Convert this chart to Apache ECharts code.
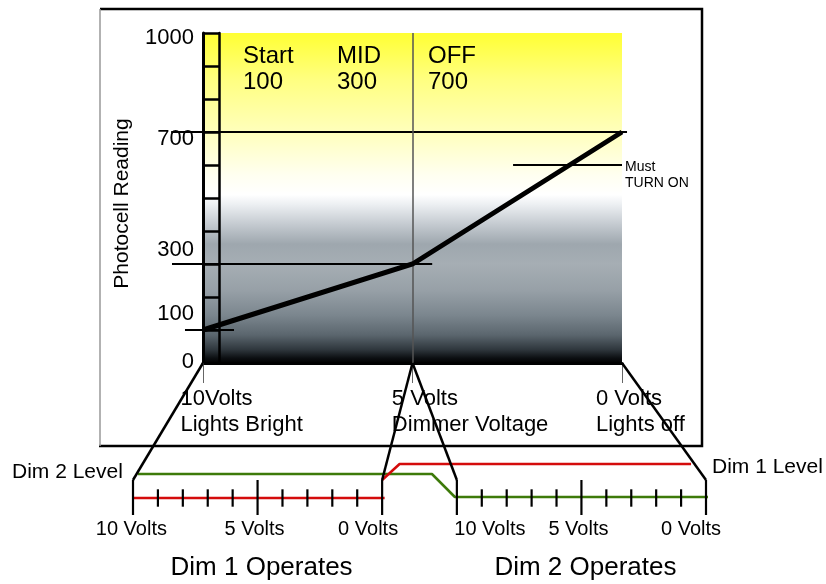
<!DOCTYPE html>
<html>
<head>
<meta charset="utf-8">
<script src="https://cdn.jsdelivr.net/npm/echarts@6/dist/echarts.min.js"></script>
<style>
  html, body { margin: 0; padding: 0; background: #fff; }
  #chart { width: 826px; height: 584px; }
</style>
</head>
<body>
<div id="chart"></div>
<script>
const FONT = '"Liberation Sans", Arial, Helvetica, sans-serif';
const INK = '#000';

// Photocell reading against dimmer control voltage
const dimmerVolts = [10, 5, 0];
const photocellReading = [100, 300, 700];
const readingLabelValues = [0, 100, 300, 700, 1000];
const voltLabels = ['10Volts\nLights Bright', '5 Volts\nDimmer Voltage', '0 Volts\nLights off'];

// Threshold notes printed in the plot
const stageNames = ['Start', 'MID', 'OFF'];
const stageReadings = [100, 300, 700];

// Horizontal reference marks: reading level and the voltage span each covers
const refReadings = [700, 300, 100, 600];
const refFromVolts = [10.76, 10.74, 10.43, 2.6];
const refToVolts = [-0.12, 4.53, 9.26, 0];

// Lower strip: two dimmer scales laid on one sweep axis (position of each 10 V end)
const dimScaleStart = [0, 13];
const dimScaleVolts = [10, 9, 8, 7, 6, 5, 4, 3, 2, 1, 0];
const dimScaleNames = ['Dim 1 Operates', 'Dim 2 Operates'];

// Level traces on the sweep axis: [sweep position, level]
const dim1LevelLow = [[0, 0], [10.1, 0]];
const dim1LevelHigh = [[10, 1.8], [10.7, 3.4], [22.4, 3.4]];
const dim2Level = [[0.2, 2.4], [12.0, 2.4], [12.92, 0.1], [23.1, 0.1]];

// ---- derived structures -------------------------------------------------
const SPAN = 10;
const dimTicks = [];
dimScaleStart.forEach(start => {
  dimScaleVolts.forEach(v => {
    const major = v % 5 === 0;
    dimTicks.push([start + (SPAN - v), major ? -1.7 : -0.87, major ? 1.8 : 0.87]);
  });
});
const dimLabelPos = [];
const dimLabelText = [];
dimScaleStart.forEach(start => {
  dimScaleVolts.filter(v => v % 5 === 0).forEach(v => {
    dimLabelPos.push(start + (SPAN - v));
    dimLabelText.push(v + ' Volts');
  });
});
const refRows = refReadings.map((lvl, i) => [refFromVolts[i], refToVolts[i], lvl]);

// small nudges of label text (pixels)
const yLabelShift = { 0: -1.5, 100: -16.5, 300: -14.5, 700: 7, 1000: 5 };
const dimLabelShift = [-1.6, -3, -14, 33, -3, -15];
const voltLabelDx = [-22.5, -20.6, -26];

function vShiftPad(d) { return d >= 0 ? [2 * d, 0, 0, 0] : [0, 0, -2 * d, 0]; }
function hShiftPad(d) { return d >= 0 ? [0, 0, 0, 2 * d] : [0, -2 * d, 0, 0]; }

const yRich = {};
readingLabelValues.forEach(v => {
  yRich['r' + v] = { fontSize: 22, fontFamily: FONT, color: INK, padding: vShiftPad(yLabelShift[v] || 0) };
});
const dimRich = {};
dimLabelPos.forEach((u, i) => {
  dimRich['d' + i] = { fontSize: 20, fontFamily: FONT, color: INK, padding: hShiftPad(dimLabelShift[i]) };
});

const plotFill = new echarts.graphic.LinearGradient(0, 0, 0, 1, [
  { offset: 0.00, color: '#ffff33' },
  { offset: 0.14, color: '#ffff80' },
  { offset: 0.29, color: '#ffffb8' },
  { offset: 0.43, color: '#fffff0' },
  { offset: 0.49, color: '#ffffff' },
  { offset: 0.52, color: '#eceff2' },
  { offset: 0.58, color: '#c4cad0' },
  { offset: 0.64, color: '#9ea7ae' },
  { offset: 0.70, color: '#a6aeb4' },
  { offset: 0.78, color: '#97a0a7' },
  { offset: 0.855, color: '#7b868e' },
  { offset: 0.915, color: '#5b666e' },
  { offset: 0.96, color: '#2e363c' },
  { offset: 0.985, color: '#0c0f12' },
  { offset: 1.00, color: '#000000' }
]);

const option = {
  animation: false,
  backgroundColor: '#fff',
  textStyle: { fontFamily: FONT, color: INK },
  grid: [
    { left: 203, right: 204, top: 33, bottom: 221, show: true, backgroundColor: plotFill, borderWidth: 0 },
    { left: 133, right: 120, top: 458, bottom: 66 }
  ],
  xAxis: [
    {
      gridIndex: 0, type: 'value', min: 0, max: 10, interval: 5, inverse: true,
      axisLine: { onZero: false, lineStyle: { color: '#000', width: 3 } },
      axisTick: { show: true, length: 20, lineStyle: { color: '#666', width: 1 } },
      axisLabel: { show: false },
      splitLine: { show: false }
    },
    {
      gridIndex: 1, type: 'value', min: 0, max: 23,
      axisLine: { show: false, onZero: false },
      axisTick: { show: false },
      splitLine: { show: false },
      axisLabel: {
        customValues: dimLabelPos,
        margin: 1,
        color: INK,
        formatter: val => {
          const i = dimLabelPos.findIndex(u => Math.abs(u - val) < 1e-6);
          return i < 0 ? '' : '{d' + i + '|' + dimLabelText[i] + '}';
        },
        rich: dimRich
      }
    }
  ],
  yAxis: [
    {
      gridIndex: 0, type: 'value', min: 0, max: 1000, interval: 100, position: 'left',
      name: 'Photocell Reading', nameLocation: 'middle', nameGap: 70, nameRotate: 90,
      nameTextStyle: { fontSize: 21, fontFamily: FONT, color: INK, padding: [0, 11, 0, 0] },
      axisLine: { show: true, onZero: false, lineStyle: { color: '#000', width: 3 } },
      axisTick: { show: true, inside: true, length: 17, lineStyle: { color: '#000', width: 2.5 } },
      axisLabel: {
        customValues: readingLabelValues,
        margin: 9,
        color: INK,
        formatter: v => '{r' + v + '|' + v + '}',
        rich: yRich
      },
      splitLine: { show: false }
    },
    {
      // right edge of the scale ruler
      gridIndex: 0, type: 'value', min: 0, max: 1000, position: 'left', offset: -16.5,
      axisLine: { show: true, onZero: false, lineStyle: { color: '#000', width: 2.5 } },
      axisTick: { show: false }, axisLabel: { show: false }, splitLine: { show: false }
    },
    {
      gridIndex: 1, type: 'value', min: -2, max: 4, show: false,
      axisLine: { onZero: false }, splitLine: { show: false }
    }
  ],
  series: [
    {
      name: 'Photocell Reading',
      type: 'line', xAxisIndex: 0, yAxisIndex: 0,
      data: dimmerVolts.map((v, i) => [v, photocellReading[i]]),
      symbol: 'none', z: 5, silent: true,
      lineStyle: { color: '#000', width: 5, join: 'miter' },
      markLine: {
        silent: true, symbol: 'none', label: { show: false },
        lineStyle: { color: '#555', width: 1.5, type: 'solid' },
        data: [{ xAxis: 5 }]
      }
    },
    {
      // horizontal reference marks, allowed to run past the plot edges
      type: 'custom', xAxisIndex: 0, yAxisIndex: 0, clip: false, silent: true, z: 3,
      data: refRows,
      encode: { x: [0, 1], y: 2 },
      renderItem: (params, api) => {
        const a = api.coord([api.value(0), api.value(2)]);
        const b = api.coord([api.value(1), api.value(2)]);
        return {
          type: 'line',
          shape: { x1: a[0], y1: a[1], x2: b[0], y2: b[1] },
          style: { stroke: '#000', lineWidth: 2 }
        };
      }
    },
    {
      // voltage captions under the main axis
      type: 'scatter', xAxisIndex: 0, yAxisIndex: 0, symbolSize: 0.1, clip: false, silent: true,
      itemStyle: { color: '#000', opacity: 1 },
      label: { show: true, color: '#000', fontSize: 22, lineHeight: 26, fontFamily: FONT },
      data: dimmerVolts.map((v, i) => ({
        value: [v, 0],
        label: {
          show: true, position: [voltLabelDx[i], 23], formatter: voltLabels[i],
          fontSize: 22, lineHeight: 26, fontFamily: FONT, color: '#000', align: 'left'
        }
      }))
    },
    {
      name: 'Dim 2 Level', type: 'line', xAxisIndex: 1, yAxisIndex: 2,
      data: dim2Level, symbol: 'none', clip: false, silent: true, z: 3,
      lineStyle: { color: '#3d7a0a', width: 2.5 }
    },
    {
      name: 'Dim 1 Level', type: 'line', xAxisIndex: 1, yAxisIndex: 2,
      data: dim1LevelLow, symbol: 'none', clip: false, silent: true, z: 3,
      lineStyle: { color: '#d40b0b', width: 2.5 }
    },
    {
      name: 'Dim 1 Level', type: 'line', xAxisIndex: 1, yAxisIndex: 2,
      data: dim1LevelHigh, symbol: 'none', clip: false, silent: true, z: 3,
      lineStyle: { color: '#d40b0b', width: 2.5 }
    },
    {
      type: 'custom', xAxisIndex: 1, yAxisIndex: 2, clip: false, silent: true, z: 4,
      data: dimTicks,
      encode: { x: 0, y: [1, 2] },
      renderItem: (params, api) => {
        const a = api.coord([api.value(0), api.value(1)]);
        const b = api.coord([api.value(0), api.value(2)]);
        return {
          type: 'line',
          shape: { x1: a[0], y1: a[1], x2: b[0], y2: b[1] },
          style: { stroke: '#000', lineWidth: 2.2 }
        };
      }
    }
  ]
};

const chart = echarts.init(document.getElementById('chart'));
chart.setOption(option);

// connector lines from the main voltage axis down to the two dimmer scales
const px = (gi, pt) => chart.convertToPixel({ gridIndex: gi }, pt);
const links = [
  [[10, 0], [dimScaleStart[0], 1.8]],
  [[5, 0], [dimScaleStart[0] + SPAN, 1.8]],
  [[5, 0], [dimScaleStart[1], 1.8]],
  [[0, 0], [dimScaleStart[1] + SPAN, 1.8]]
];
const graphics = [];
links.forEach(([top, bottom]) => {
  const a = px(0, top), b = px(1, bottom);
  graphics.push({
    type: 'line', silent: true, z: 10,
    shape: { x1: a[0], y1: a[1], x2: b[0], y2: b[1] },
    style: { stroke: '#000', lineWidth: 2.5 }
  });
});

function text(str, x, y, size, extra) {
  return {
    type: 'text', x: x, y: y, silent: true, z: 11,
    style: Object.assign({
      text: str, fontSize: size, fontFamily: FONT, fill: INK,
      align: 'left', verticalAlign: 'middle'
    }, extra || {})
  };
}

// frame
graphics.push({
  type: 'polyline', silent: true, z: 12,
  shape: { points: [[100, 9], [702, 9], [702, 446], [99, 446]] },
  style: { stroke: '#000', lineWidth: 2.5, fill: null }
});
graphics.push({
  type: 'line', silent: true, z: 12,
  shape: { x1: 100, y1: 9, x2: 100, y2: 446 },
  style: { stroke: '#999', lineWidth: 1.5 }
});

// threshold notes
const stageX = [243, 337, 428];
stageNames.forEach((nm, i) => {
  graphics.push(text(nm + '\n' + stageReadings[i], stageX[i], 69, 24, { lineHeight: 26 }));
});
graphics.push(text('Must\nTURN ON', 625, 175, 14, { lineHeight: 16 }));

// lower strip captions
graphics.push(text('Dim 2 Level', 12, 472, 21));
graphics.push(text('Dim 1 Level', 712, 467, 21));
dimScaleNames.forEach((nm, i) => {
  const l = px(1, [dimScaleStart[i], 0])[0];
  const r = px(1, [dimScaleStart[i] + SPAN, 0])[0];
  graphics.push(text(nm, (l + r) / 2 + 4, 568, 26, { align: 'center' }));
});

chart.setOption({ graphic: graphics });
</script>
</body>
</html>
